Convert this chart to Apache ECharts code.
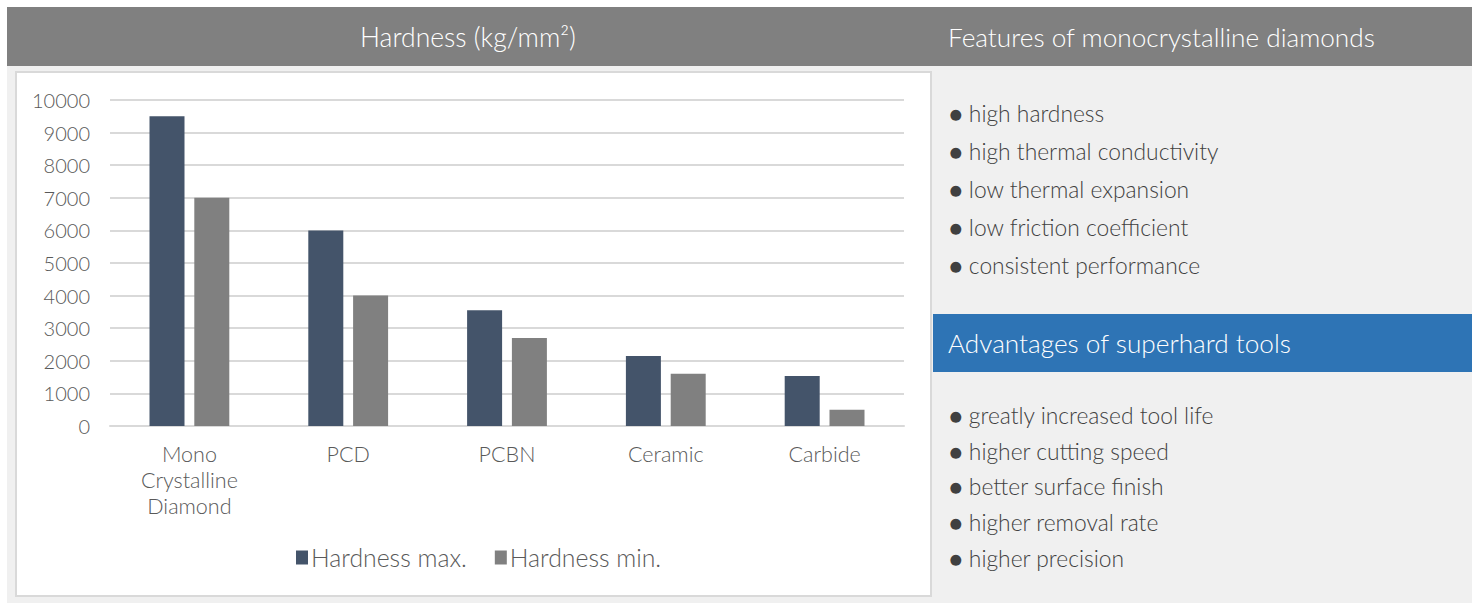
<!DOCTYPE html>
<html><head><meta charset="utf-8">
<script src="https://cdn.jsdelivr.net/npm/echarts@6/dist/echarts.min.js"></script>
<style>html,body{margin:0;padding:0;background:#fff}#c{width:1482px;height:603px}</style>
</head><body><div id="c"></div>
<script>
const categories = ['Mono\nCrystalline\nDiamond', 'PCD', 'PCBN', 'Ceramic', 'Carbide'];
const hardnessMax = [9500, 6000, 3550, 2150, 1530];
const hardnessMin = [7000, 4000, 2700, 1600, 500];
const seriesNames = ['Hardness max.', 'Hardness min.'];
const chartTitle = 'Hardness (kg/mm²)';
const featuresTitle = 'Features of monocrystalline diamonds';
const features = ['high hardness', 'high thermal conductivity', 'low thermal expansion', 'low friction coefficient', 'consistent performance'];
const advantagesTitle = 'Advantages of superhard tools';
const advantages = ['greatly increased tool life', 'higher cutting speed', 'better surface finish', 'higher removal rate', 'higher precision'];

const FONT = 'Lato, "Open Sans", sans-serif';
const chart = echarts.init(document.getElementById('c'), null, {renderer: 'svg'});

const graphics = [
  {type: 'rect', z: -10, shape: {x: 7, y: 7, width: 1465, height: 59}, style: {fill: '#808080'}, silent: true},
  {type: 'rect', z: -10, shape: {x: 7, y: 66, width: 1465, height: 537}, style: {fill: '#f0f0f0'}, silent: true},
  {type: 'rect', z: -9, shape: {x: 16, y: 72, width: 915, height: 524}, style: {fill: '#ffffff', stroke: '#d9d9d9', lineWidth: 2}, silent: true},
  {type: 'rect', z: -9, shape: {x: 933, y: 314, width: 539, height: 58}, style: {fill: '#2e74b5'}, silent: true},
  {type: 'text', style: {text: chartTitle, x: 468, y: 37, align: 'center', verticalAlign: 'middle', fill: '#ffffff', font: '300 26.5px ' + FONT}},
  {type: 'text', style: {text: featuresTitle, x: 948, y: 37, align: 'left', verticalAlign: 'middle', fill: '#ffffff', font: '300 26.2px ' + FONT}},
  {type: 'text', style: {text: advantagesTitle, x: 948, y: 343, align: 'left', verticalAlign: 'middle', fill: '#ffffff', font: '300 26.2px ' + FONT}}
];
features.forEach((t, i) => {
  graphics.push({type: 'text', style: {text: '● ' + t, x: 949, y: 113 + i * 38, align: 'left', verticalAlign: 'middle', fill: '#404040', font: '300 22.8px ' + FONT}});
});
advantages.forEach((t, i) => {
  graphics.push({type: 'text', style: {text: '● ' + t, x: 949, y: 415 + i * 35.7, align: 'left', verticalAlign: 'middle', fill: '#404040', font: '300 22.8px ' + FONT}});
});

chart.setOption({
  animation: false,
  textStyle: {fontFamily: FONT},
  graphic: graphics,
  grid: {left: 110, right: 578, top: 100, bottom: 177, containLabel: false},
  legend: {
    data: seriesNames, left: 291, top: 540, itemWidth: 12, itemHeight: 14, itemGap: 28, icon: 'rect',
    textStyle: {fontSize: 24.8, fontWeight: 300, color: '#595959', fontFamily: FONT, padding: [0, 0, 0, -2]}
  },
  xAxis: {
    type: 'category', data: categories,
    axisLine: {lineStyle: {color: '#d9d9d9', width: 2}},
    axisTick: {show: false},
    axisLabel: {fontSize: 21.5, fontWeight: 300, color: '#595959', lineHeight: 26, margin: 15, interval: 0}
  },
  yAxis: {
    type: 'value', min: 0, max: 10000, interval: 1000,
    axisLine: {show: false}, axisTick: {show: false},
    splitLine: {lineStyle: {color: '#d9d9d9', width: 2}},
    axisLabel: {fontSize: 20, fontWeight: 300, color: '#595959', margin: 20, formatter: v => String(v)}
  },
  series: [
    {name: seriesNames[0], type: 'bar', data: hardnessMax, barWidth: 35, barGap: '28%', itemStyle: {color: '#44546a'}},
    {name: seriesNames[1], type: 'bar', data: hardnessMin, barWidth: 35, itemStyle: {color: '#808080'}}
  ]
});
</script></body></html>
